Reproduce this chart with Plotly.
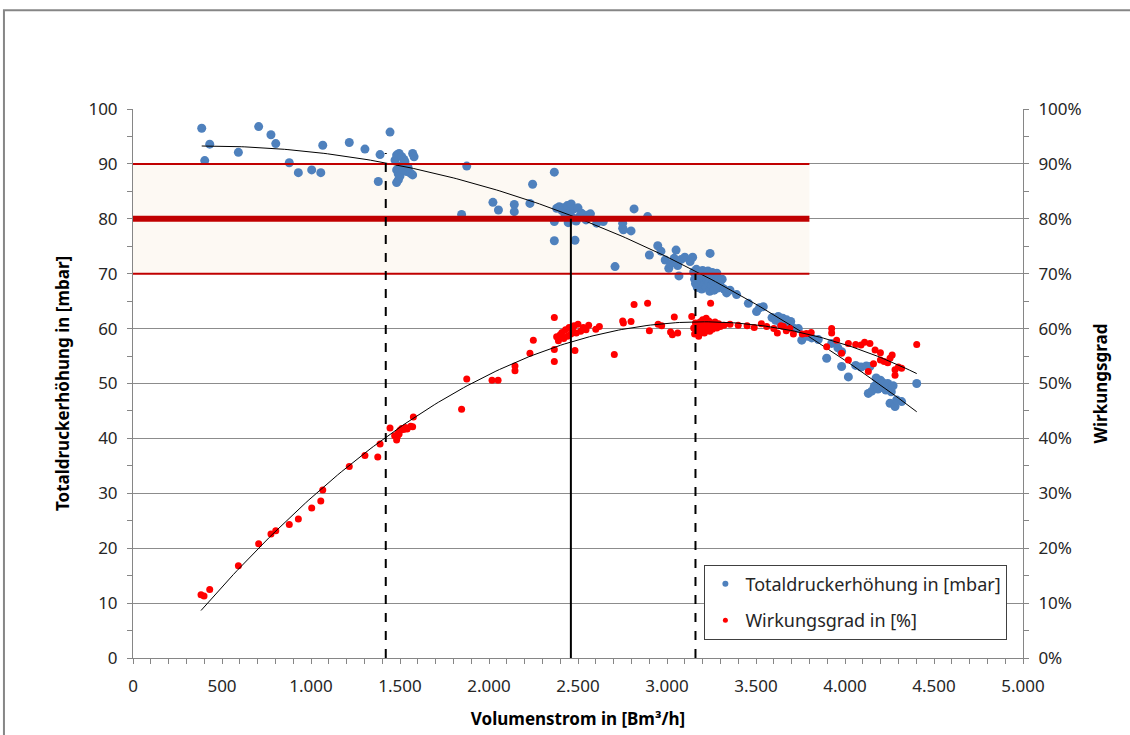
import numpy as np
import plotly.graph_objects as go

# Measured fan data: volume flow [Bm³/h], total pressure rise [mbar]
druck_q = [
    386, 403, 431, 592, 706, 775, 802, 878, 929, 1004, 1055, 1066, 1215, 1303,
    1378, 1388, 1444, 1472, 1481, 1481, 1481, 1490, 1491, 1495, 1500, 1502,
    1510, 1515, 1522, 1528, 1537, 1545, 1560, 1571, 1571, 1579,
    1846, 1875, 2022, 2053, 2142, 2142, 2230, 2245, 2367, 2367, 2367, 2380,
    2395, 2410, 2420, 2428, 2440, 2445, 2455, 2462, 2470, 2478, 2483, 2490,
    2500, 2510, 2520, 2530, 2545, 2558, 2570, 2605, 2642, 2708, 2751, 2751,
    2755, 2798, 2815, 2891, 2901, 2948, 2966, 2990, 3010, 3020, 3040, 3051,
    3060, 3067, 3080, 3100, 3130, 3144, 3242,
    3150, 3155, 3160, 3165, 3170, 3178, 3185, 3190, 3195, 3200, 3205, 3210,
    3215, 3220, 3225, 3230, 3235, 3240, 3245, 3250, 3255, 3260, 3265, 3270,
    3275, 3280, 3285, 3290, 3300, 3310, 3320, 3335,
    3354, 3391, 3457, 3503, 3520, 3541, 3590, 3610, 3625, 3640, 3650, 3660,
    3672, 3680, 3695, 3705, 3738, 3757, 3790, 3813, 3850, 3897, 3925, 3960,
    3981, 3981, 4019, 4060, 4090, 4120, 4131, 4140, 4150, 4165, 4175, 4185,
    4199, 4210, 4220, 4230, 4240, 4253, 4260, 4270, 4281, 4290, 4318, 4403,
]
druck_mbar = [
    96.5, 90.6, 93.6, 92.1, 96.8, 95.3, 93.7, 90.2, 88.4, 88.9, 88.4, 93.4, 93.9, 92.7,
    86.8, 91.7, 95.8, 90.7, 91.6, 88.9, 86.6, 88.2, 87.1, 91.9, 87.8, 89.6,
    91.3, 89.0, 90.8, 90.4, 88.6, 89.4, 88.3, 88.0, 91.9, 91.3,
    80.8, 89.6, 83.0, 81.6, 82.6, 81.3, 82.8, 86.3, 88.5, 79.5, 76.0, 81.9,
    82.2, 81.5, 82.0, 80.6, 82.4, 79.3, 81.1, 82.7, 80.2, 81.8, 76.1, 79.6,
    82.0, 80.5, 81.0, 80.7, 79.8, 80.7, 80.9, 79.2, 79.5, 71.3, 79.2, 78.3,
    78.0, 77.8, 81.8, 80.4, 73.4, 75.1, 74.1, 72.5, 71.0, 71.8, 72.8, 74.3,
    71.5, 69.6, 72.6, 73.0, 72.2, 73.0, 73.7,
    70.3, 69.0, 68.2, 70.8, 67.5, 69.5, 70.2, 68.8, 67.2, 70.6, 69.3, 68.0,
    70.0, 67.6, 69.0, 70.5, 68.4, 66.8, 69.7, 67.9, 70.2, 68.6, 67.0, 69.2,
    68.0, 70.1, 67.4, 68.8, 67.8, 69.0, 67.2, 66.5,
    67.0, 66.2, 64.6, 63.1, 63.8, 64.0, 62.0, 61.5, 62.2, 60.8, 61.9, 61.2,
    61.6, 60.6, 61.3, 60.2, 60.0, 57.9, 58.6, 58.3, 58.0, 54.6, 57.3, 56.5,
    55.8, 53.1, 51.2, 53.3, 53.0, 53.2, 48.2, 53.1, 48.6, 49.5, 51.0, 49.0,
    50.6, 50.2, 49.1, 48.8, 50.0, 46.4, 48.5, 49.6, 45.8, 47.0, 46.7, 50.0,
]

# Efficiency [%]
wirk_q = [
    382, 399, 431, 592, 706, 775, 802, 878, 929, 1004, 1055, 1066, 1215, 1303,
    1375, 1388, 1444, 1470, 1481, 1485, 1490, 1495, 1500, 1510, 1520, 1530,
    1540, 1560, 1571, 1575, 1846, 1875, 2017, 2051, 2146, 2146, 2230, 2249,
    2367, 2367, 2367, 2380, 2390, 2400, 2410, 2420, 2430, 2440, 2450, 2460,
    2470, 2478, 2483, 2490, 2500, 2515, 2530, 2545, 2560, 2600, 2620,
    2704, 2751, 2755, 2798, 2815, 2891, 2901, 2950, 2970, 3020, 3030, 3041,
    3060, 3139, 3245,
    3150, 3155, 3160, 3165, 3170, 3178, 3185, 3190, 3195, 3200, 3205, 3210,
    3215, 3220, 3225, 3230, 3235, 3240, 3245, 3250, 3255, 3260, 3270, 3280,
    3290, 3300, 3320,
    3354, 3400, 3450, 3490, 3530, 3560, 3600, 3620, 3640, 3654, 3670, 3690,
    3710, 3760, 3783, 3810, 3897, 3925, 3925, 3953, 3981, 4019, 4019, 4060,
    4090, 4110, 4131, 4140, 4160, 4169, 4199, 4199, 4220, 4240, 4253, 4265,
    4281, 4281, 4300, 4318, 4403,
]
wirk_pct = [
    11.5, 11.3, 12.5, 16.8, 20.8, 22.6, 23.2, 24.3, 25.3, 27.3, 28.6, 30.6, 34.9, 36.9,
    36.6, 39.0, 41.9, 40.5, 39.7, 40.3, 41.0, 40.8, 41.5, 41.8, 41.6, 42.0,
    41.7, 42.2, 42.1, 43.9, 45.3, 50.8, 50.6, 50.6, 52.3, 53.2, 55.5, 57.9,
    62.0, 56.2, 54.0, 58.5, 57.8, 58.9, 59.3, 58.2, 59.8, 58.6, 60.2, 59.0,
    59.6, 60.5, 56.0, 59.2, 60.8, 59.5, 60.2, 59.8, 60.6, 59.9, 60.4,
    55.3, 61.4, 61.0, 61.3, 64.4, 64.6, 59.6, 60.8, 60.5, 59.4, 58.9, 62.1,
    59.2, 62.2, 64.6,
    60.1, 59.0, 61.0, 59.6, 60.5, 58.6, 61.2, 60.0, 59.4, 61.6, 60.3, 59.2,
    60.8, 61.9, 59.8, 60.6, 61.4, 59.5, 60.2, 61.0, 59.9, 60.7, 61.2, 60.1,
    60.9, 60.4, 60.6,
    60.8, 60.6, 60.5, 60.2, 60.9, 60.4, 60.0, 59.2, 60.5, 60.4, 59.6, 60.0,
    59.0, 59.0, 59.1, 59.3, 56.7, 60.0, 59.2, 57.9, 55.5, 54.3, 57.3, 57.1,
    57.0, 57.5, 52.2, 57.3, 53.6, 56.1, 54.3, 55.6, 54.0, 53.8, 54.6, 55.2,
    51.5, 52.5, 53.0, 52.8, 57.1,
]

# Operating range: nominal pressure with upper/lower limit
bereich_mbar = [70, 80, 90]
bereich_q_max = 3800
# Operating points on the pressure curve
betriebspunkte_q = [1420, 2460, 3160]
betriebspunkte_mbar = [92, 80, 70]
betriebspunkte_dash = ["dash", "solid", "dash"]

x_ticks = list(range(0, 5001, 500))
x_ticktext = [f"{v:,}".replace(",", ".") for v in x_ticks]

BLUE = "#4F81BD"
RED = "#FF0000"
AXIS = "#868686"
TXT = "#262626"
FONT = "Noto Sans"

fig = go.Figure()

# polynomial trend lines fitted to the measurements
c_druck = np.polyfit(np.array(druck_q) / 1000, druck_mbar, 3)
q_d = np.linspace(min(druck_q), max(druck_q), 200)
c_wirk = np.polyfit(np.array(wirk_q) / 1000, wirk_pct, 2)
q_w = np.linspace(min(wirk_q), max(wirk_q), 200)

fig.add_trace(go.Scatter(x=druck_q, y=druck_mbar, mode="markers",
                         marker=dict(color=BLUE, size=9),
                         showlegend=False, hoverinfo="skip"))
fig.add_trace(go.Scatter(x=q_d, y=np.polyval(c_druck, q_d / 1000), mode="lines",
                         line=dict(color="black", width=1), showlegend=False,
                         hoverinfo="skip"))
fig.add_trace(go.Scatter(x=wirk_q, y=wirk_pct, mode="markers", yaxis="y2",
                         marker=dict(color=RED, size=7),
                         showlegend=False, hoverinfo="skip"))
fig.add_trace(go.Scatter(x=q_w, y=np.polyval(c_wirk, q_w / 1000), mode="lines",
                         yaxis="y2", line=dict(color="black", width=1),
                         showlegend=False, hoverinfo="skip"))

# legend entries
fig.add_trace(go.Scatter(x=[None], y=[None], mode="markers", name="Totaldruckerhöhung in [mbar]",
                         marker=dict(color=BLUE, size=6), legendgroup="a"))
fig.add_trace(go.Scatter(x=[None], y=[None], mode="markers", name="Wirkungsgrad in [%]",
                         marker=dict(color=RED, size=5), legendgroup="b"))

shapes = []
# shaded operating band
shapes.append(dict(type="rect", xref="x", yref="y", x0=0, x1=bereich_q_max,
                   y0=min(bereich_mbar), y1=max(bereich_mbar),
                   fillcolor="#FDF9F3", line=dict(width=0), layer="below"))
for v in bereich_mbar:
    shapes.append(dict(type="line", xref="x", yref="y", x0=0, x1=bereich_q_max,
                       y0=v, y1=v,
                       line=dict(color="#C00000", width=6 if v == 80 else 2)))
for q, p, d in zip(betriebspunkte_q, betriebspunkte_mbar, betriebspunkte_dash):
    shapes.append(dict(type="line", xref="x", yref="y", x0=q, x1=q, y0=0, y1=p,
                       line=dict(color="black", width=2, dash=d)))
# outer chart frame
shapes.append(dict(type="rect", xref="paper", yref="paper", x0=-0.145, x1=1.3,
                   y0=-0.5, y1=1.18, line=dict(color=AXIS, width=2),
                   fillcolor="rgba(0,0,0,0)"))

tickfont = dict(family=FONT, size=17, color=TXT)
titlefont = dict(family=FONT, size=17, color="black", weight="bold")

fig.update_layout(
    width=1130, height=735,
    margin=dict(l=133, r=107, t=109, b=77),
    paper_bgcolor="white", plot_bgcolor="white",
    shapes=shapes,
    xaxis=dict(range=[0, 5000], tickvals=x_ticks, ticktext=x_ticktext,
               automargin=False,
               showgrid=False, zeroline=False, showline=True, linecolor=AXIS,
               linewidth=1, ticks="outside", ticklen=5, tickcolor=AXIS,
               minor=dict(dtick=100, tick0=0, ticks="outside", ticklen=5,
                          tickcolor=AXIS, showgrid=False),
               tickfont=tickfont, ticklabelstandoff=8,
               title=dict(text="Volumenstrom in [Bm³/h]", font=titlefont, standoff=16)),
    yaxis=dict(range=[0, 100], dtick=10, showgrid=True, gridcolor="#8C8C8C",
               automargin=False,
               gridwidth=1, zeroline=False, showline=True, linecolor=AXIS,
               ticks="outside", ticklen=5, tickcolor=AXIS,
               minor=dict(dtick=5, ticks="outside", ticklen=5, tickcolor=AXIS,
                          showgrid=False),
               tickfont=tickfont, ticklabelstandoff=6,
               title=dict(text="Totaldruckerhöhung in [mbar]", font=titlefont, standoff=14)),
    yaxis2=dict(range=[0, 100], dtick=10, ticksuffix="%", overlaying="y",
                automargin=False,
                side="right", showgrid=False, zeroline=False, showline=True,
                linecolor=AXIS, ticks="outside", ticklen=5, tickcolor=AXIS,
                minor=dict(dtick=5, ticks="outside", ticklen=5, tickcolor=AXIS),
                tickfont=tickfont, ticklabelstandoff=6,
                title=dict(text="Wirkungsgrad", font=titlefont, standoff=14)),
    legend=dict(x=0.642, y=0.17, xanchor="left", yanchor="top",
                bgcolor="white", bordercolor="#404040", borderwidth=1,
                font=dict(family=FONT, size=18, color=TXT),
                tracegroupgap=10, itemwidth=30),
    showlegend=True,
)

fig.write_html("out.html")
